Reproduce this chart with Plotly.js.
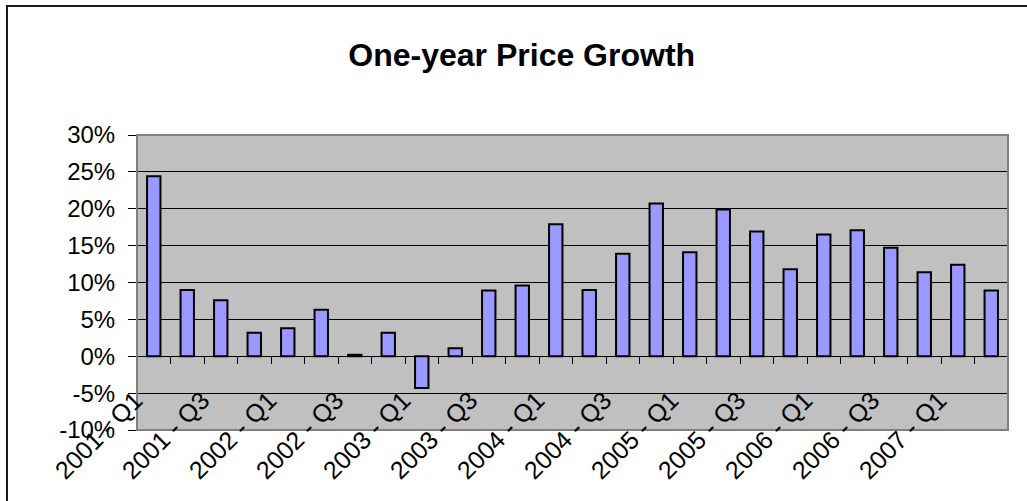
<!DOCTYPE html>
<html>
<head>
<meta charset="utf-8">
<script src="https://cdn.plot.ly/plotly-3.0.1.min.js"></script>
<style>
  html, body { margin: 0; padding: 0; background: #fff; overflow: hidden; }
  #plot { position: absolute; left: 0; top: 0; width: 1027px; height: 501px; }
  #frame { position: absolute; left: 6px; top: 5px; width: 2000px; height: 2000px;
           border-left: 2px solid #1a1a1a; border-top: 2px solid #1a1a1a; pointer-events: none; }
</style>
</head>
<body>
<div id="plot"></div>
<div id="frame"></div>
<script>
// Quarter categories
const quarters = [
  "2001 - Q1","2001 - Q2","2001 - Q3","2001 - Q4",
  "2002 - Q1","2002 - Q2","2002 - Q3","2002 - Q4",
  "2003 - Q1","2003 - Q2","2003 - Q3","2003 - Q4",
  "2004 - Q1","2004 - Q2","2004 - Q3","2004 - Q4",
  "2005 - Q1","2005 - Q2","2005 - Q3","2005 - Q4",
  "2006 - Q1","2006 - Q2","2006 - Q3","2006 - Q4",
  "2007 - Q1","2007 - Q2"
];
// One-year price growth, percent
const growth = [
  24.4, 9.0, 7.6, 3.2, 3.8, 6.3, 0.2, 3.2, -4.3, 1.1,
  8.9, 9.6, 17.9, 9.0, 13.9, 20.7, 14.1, 19.9, 16.9, 11.8,
  16.5, 17.1, 14.7, 11.4, 12.4, 8.9
];
// Y-axis tick values and labels
const yTickVals = [-10, -5, 0, 5, 10, 15, 20, 25, 30];
const yTickText = ["-10%", "-5%", "0%", "5%", "10%", "15%", "20%", "25%", "30%"];
// Every other quarter gets a label
const labelEvery = 2;

const FONT = "Liberation Sans, Arial, sans-serif";
const yMin = -10, yMax = 30;

const trace = {
  type: "bar",
  x: quarters,
  y: growth,
  marker: { color: "#9999FF", line: { color: "#000000", width: 2 } },
  hoverinfo: "x+y"
};

const annotations = quarters
  .filter((q, i) => i % labelEvery === 0)
  .map(q => ({
    x: q, y: 0, xref: "x", yref: "y",
    text: q, showarrow: false, textangle: -45,
    xanchor: "right", yanchor: "top",
    xshift: -3, yshift: -27,
    font: { family: FONT, size: 25, color: "#000" }
  }));

const layout = {
  width: 1027, height: 501,
  margin: { l: 137, r: 19, t: 135, b: 71, pad: 0 },
  paper_bgcolor: "rgba(0,0,0,0)",
  plot_bgcolor: "#C0C0C0",
  showlegend: false,
  bargap: 0.6,
  title: {
    text: "One-year Price Growth",
    font: { family: FONT, size: 32, color: "#000", weight: "bold" },
    x: 0.508, xref: "container", xanchor: "center",
    y: 0.89, yref: "container", yanchor: "middle"
  },
  xaxis: {
    type: "category",
    range: [-0.5, quarters.length - 0.5],
    anchor: "free",
    position: (0 - yMin) / (yMax - yMin),
    showline: true, linecolor: "#000", linewidth: 1,
    ticks: "outside", tickson: "boundaries", ticklen: 7, tickwidth: 1, tickcolor: "#000",
    showticklabels: false,
    showgrid: false, zeroline: false, fixedrange: true
  },
  yaxis: {
    range: [yMin, yMax],
    tickvals: yTickVals, ticktext: yTickText,
    ticks: "outside", ticklen: 8, tickwidth: 1, tickcolor: "#000",
    ticklabelstandoff: 8,
    tickfont: { family: FONT, size: 24, color: "#000" },
    showgrid: true, gridcolor: "#000", gridwidth: 1,
    zeroline: false, showline: false, fixedrange: true
  },
  shapes: [{
    type: "rect", xref: "paper", yref: "paper", x0: 0, x1: 1, y0: 0, y1: 1,
    line: { color: "#808080", width: 2 }, layer: "above"
  }],
  annotations: annotations
};

Plotly.newPlot("plot", [trace], layout, { displayModeBar: false, staticPlot: true });
</script>
</body>
</html>
